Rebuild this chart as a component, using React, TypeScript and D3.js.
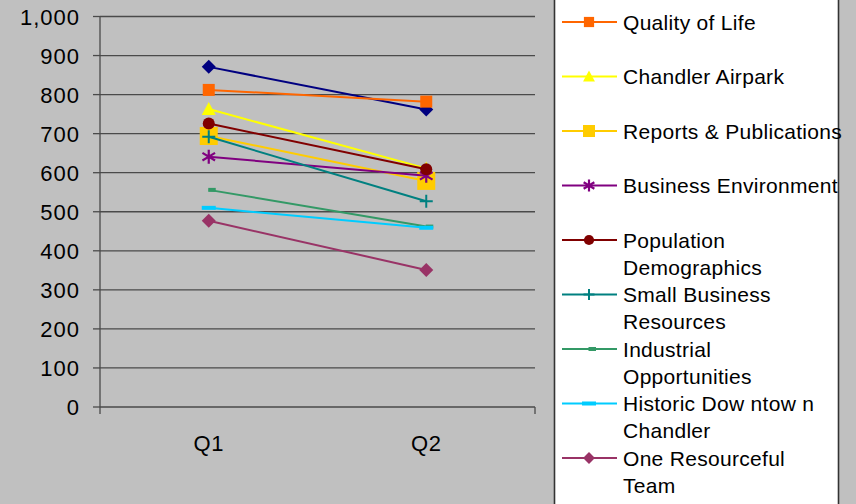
import React from "react";
import * as d3 from "d3";

const categories = ["Q1", "Q2"];
const seriesNames = [
  "",
  "Quality of Life",
  "Chandler Airpark",
  "Reports & Publications",
  "Business Environment",
  "Population Demographics",
  "Small Business Resources",
  "Industrial Opportunities",
  "Historic Dow ntow n Chandler",
  "One Resourceful Team",
];
const legendLines = [
  [],
  ["Quality of Life"],
  ["Chandler Airpark"],
  ["Reports & Publications"],
  ["Business Environment"],
  ["Population", "Demographics"],
  ["Small Business", "Resources"],
  ["Industrial", "Opportunities"],
  ["Historic Dow ntow n", "Chandler"],
  ["One Resourceful", "Team"],
];
const q1Values = [871, 812, 763, 694, 641, 726, 692, 556, 510, 477];
const q2Values = [762, 782, 611, 579, 592, 609, 527, 462, 459, 351];
const colors = [
  "#000080",
  "#FF6600",
  "#FFFF00",
  "#FFCC00",
  "#800080",
  "#800000",
  "#008080",
  "#339966",
  "#00CCFF",
  "#993366",
];
const markers = [
  "diamond",
  "square",
  "triangle",
  "bigsquare",
  "asterisk",
  "circle",
  "plus",
  "shortdash",
  "dash",
  "diamond",
];
const yTicks = [0, 100, 200, 300, 400, 500, 600, 700, 800, 900, 1000];

const W = 856;
const H = 504;

function Marker({ type, x, y, color, legend }: { type: string; x: number; y: number; color: string; legend?: boolean }) {
  const s = legend ? 0.85 : 1;
  switch (type) {
    case "diamond": {
      const r = 7 * s;
      return <path d={`M${x},${y - r}L${x + r},${y}L${x},${y + r}L${x - r},${y}Z`} fill={color} />;
    }
    case "square": {
      const r = 6 * s;
      return <rect x={x - r} y={y - r} width={2 * r} height={2 * r} fill={color} />;
    }
    case "bigsquare": {
      const r = legend ? 6 : 9;
      return <rect x={x - r} y={y - r} width={2 * r} height={2 * r} fill={color} />;
    }
    case "triangle": {
      const r = 7 * s;
      return <path d={`M${x},${y - r}L${x + r},${y + r * 0.85}L${x - r},${y + r * 0.85}Z`} fill={color} />;
    }
    case "circle":
      return <circle cx={x} cy={y} r={6 * s} fill={color} />;
    case "asterisk": {
      const r = 7 * s;
      const d = r * 0.9;
      return (
        <path
          d={`M${x},${y - r}L${x},${y + r}M${x - d},${y - d * 0.6}L${x + d},${y + d * 0.6}M${x - d},${y + d * 0.6}L${x + d},${y - d * 0.6}`}
          stroke={color}
          strokeWidth={2.2}
          fill="none"
        />
      );
    }
    case "plus": {
      const r = 6.5 * s;
      return <path d={`M${x},${y - r}L${x},${y + r}M${x - r},${y}L${x + r},${y}`} stroke={color} strokeWidth={2} fill="none" />;
    }
    case "shortdash":
      return <rect x={x - 0.5} y={y - 2} width={7.5} height={4} fill={color} />;
    case "dash":
      return <rect x={x - 7} y={y - 2} width={14} height={4} fill={color} />;
    default:
      return null;
  }
}

export default function App() {
  const x = d3.scalePoint<string>().domain(categories).range([100, 535]).padding(0.5);
  const y = d3.scaleLinear().domain([0, 1000]).range([407, 16.5]);
  const line = d3
    .line<[string, number]>()
    .x((d) => x(d[0]) as number)
    .y((d) => y(d[1]));

  const series = seriesNames.map((name, i) => ({
    name,
    color: colors[i],
    marker: markers[i],
    points: [
      [categories[0], q1Values[i]] as [string, number],
      [categories[1], q2Values[i]] as [string, number],
    ],
  }));

  const legendY = (i: number) => 22 + (i - 1) * 54.5;

  return (
    <svg
      width={W}
      height={H}
      style={{ position: "absolute", left: 0, top: 0, display: "block" }}
      fontFamily="'Liberation Sans', Arial, sans-serif"
    >
      <rect x={0} y={0} width={W} height={H} fill="#C0C0C0" />
      {/* gridlines */}
      {yTicks.map((t) => (
        <line key={"g" + t} x1={100} x2={535} y1={y(t)} y2={y(t)} stroke="#4a4a4a" strokeWidth={1.3} />
      ))}
      {/* y axis */}
      <line x1={100} x2={100} y1={y(1000)} y2={414} stroke="#4a4a4a" strokeWidth={1.3} />
      {yTicks.map((t) => (
        <g key={"t" + t}>
          <line x1={93} x2={100} y1={y(t)} y2={y(t)} stroke="#4a4a4a" strokeWidth={1.3} />
          <text x={80} y={y(t) + 8} textAnchor="end" fontSize={22} letterSpacing={1} fill="#000">
            {d3.format(",")(t)}
          </text>
        </g>
      ))}
      {/* x axis end ticks */}
      <line x1={535} x2={535} y1={407} y2={414} stroke="#4a4a4a" strokeWidth={1.3} />
      {categories.map((c) => (
        <text key={c} x={x(c) as number} y={451} textAnchor="middle" fontSize={22} letterSpacing={0.5} fill="#000">
          {c}
        </text>
      ))}
      {/* series */}
      {series.map((s, i) => (
        <g key={"s" + i}>
          <path d={line(s.points) as string} stroke={s.color} strokeWidth={2} fill="none" />
          {s.points.map((p, j) => (
            <Marker key={j} type={s.marker} x={x(p[0]) as number} y={y(p[1])} color={s.color} />
          ))}
        </g>
      ))}
      {/* legend */}
      <rect x={554.5} y={-10} width={284} height={H + 20} fill="#FFFFFF" stroke="#333" strokeWidth={1.6} />
      {series.map((s, i) => {
        if (legendLines[i].length === 0) return null;
        const ly = legendY(i);
        return (
          <g key={"l" + i}>
            <line x1={562} x2={617} y1={ly} y2={ly} stroke={s.color} strokeWidth={2} />
            <Marker type={s.marker} x={589} y={ly} color={s.color} legend />
            {legendLines[i].map((t, k) => (
              <text key={k} x={623} y={ly + 7.5 + k * 27} fontSize={21} letterSpacing={0.3} fill="#000">
                {t}
              </text>
            ))}
          </g>
        );
      })}
    </svg>
  );
}
